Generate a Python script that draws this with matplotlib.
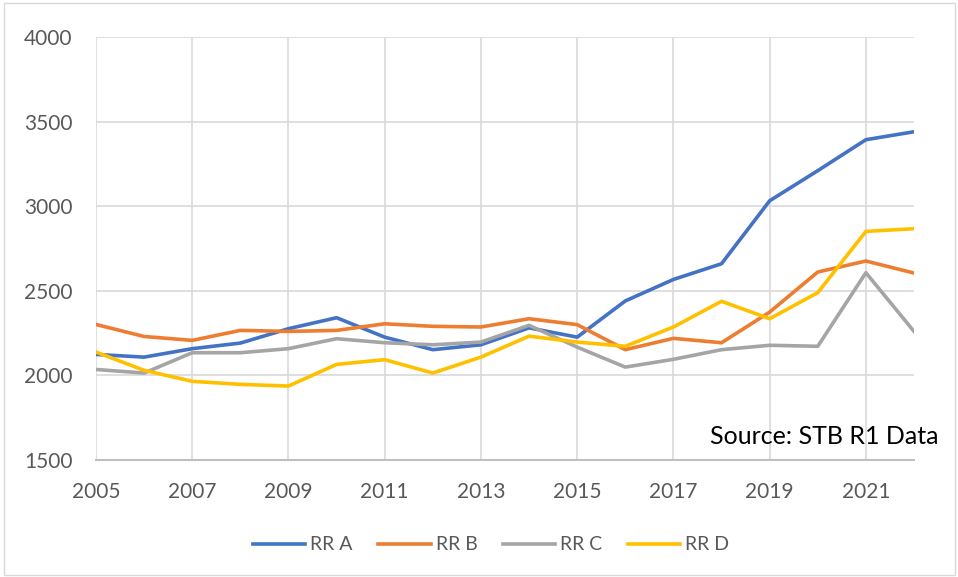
import matplotlib
matplotlib.use("Agg")
import matplotlib.pyplot as plt
from matplotlib.patches import Rectangle

years = list(range(2005, 2023))
rr_a = [2124, 2108, 2158, 2191, 2276, 2341, 2226, 2152, 2181, 2281, 2226, 2440, 2567, 2660, 3032, 3210, 3393, 3440]
rr_b = [2301, 2230, 2207, 2266, 2260, 2266, 2305, 2290, 2286, 2335, 2300, 2152, 2219, 2193, 2374, 2611, 2676, 2605]
rr_c = [2035, 2014, 2134, 2134, 2158, 2217, 2193, 2181, 2197, 2296, 2167, 2049, 2095, 2152, 2178, 2172, 2607, 2260]
rr_d = [2138, 2030, 1965, 1947, 1937, 2065, 2093, 2014, 2108, 2232, 2197, 2172, 2286, 2438, 2335, 2489, 2851, 2867]
series_names = ["RR A", "RR B", "RR C", "RR D"]
colors = ["#4472C4", "#ED7D31", "#A5A5A5", "#FFC000"]
xticks = list(range(2005, 2022, 2))
yticks = [1500, 2000, 2500, 3000, 3500, 4000]
source_text = "Source: STB R1 Data"

plt.rcParams['font.family'] = ['Lato', 'DejaVu Sans']

W, H = 958, 577
fig = plt.figure(figsize=(W / 100, H / 100), dpi=100)
fig.patch.set_facecolor("white")
fig.patches.append(Rectangle((4 / W, 2 / H), 951 / W, 572 / H, transform=fig.transFigure,
                             fill=False, edgecolor="#D9D9D9", linewidth=1))

left, right, top, bottom = 96, 914, 37, 460
ax = fig.add_axes([left / W, 1 - bottom / H, (right - left) / W, (bottom - top) / H])

for vals, name, c in zip([rr_a, rr_b, rr_c, rr_d], series_names, colors):
    ax.plot(years, vals, color=c, linewidth=2.6, label=name, solid_joinstyle="round", zorder=3)

ax.set_xlim(2005, 2022)
ax.set_ylim(1500, 4000)
ax.set_xticks(xticks)
ax.set_yticks(yticks)
ax.grid(True, color="#D9D9D9", linewidth=1.2, zorder=0)
for s in ["top", "right", "left"]:
    ax.spines[s].set_visible(False)
ax.spines["bottom"].set_color("#BFBFBF")
ax.spines["bottom"].set_linewidth(1.5)
ax.tick_params(axis="both", length=0, labelsize=15, labelcolor="#595959")
ax.tick_params(axis="x", pad=16)
ax.tick_params(axis="y", pad=17)

fig.text(938 / W, 1 - 436 / H, source_text, ha="right", va="center", fontsize=18, color="black")

leg = fig.legend(loc="center", bbox_to_anchor=(491 / W, 1 - 545 / H), ncol=4, frameon=False,
                 fontsize=14, handlelength=2.7, columnspacing=1.3, handletextpad=0.26)
for t in leg.get_texts():
    t.set_color("#595959")

fig.savefig("out.png", dpi=100)
